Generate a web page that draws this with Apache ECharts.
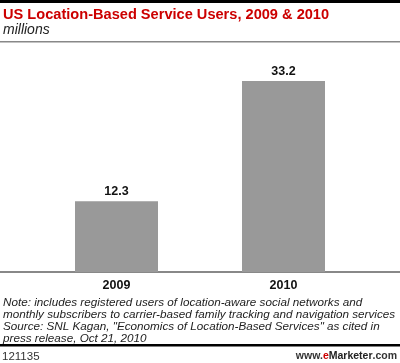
<!DOCTYPE html>
<html><head><meta charset="utf-8">
<script src="https://cdn.jsdelivr.net/npm/echarts@6/dist/echarts.min.js"></script>
<style>html,body{margin:0;padding:0;background:#fff}#c{width:400px;height:363px}</style>
</head><body><div id="c"></div>
<script>
const categories = ['2009', '2010'];
const users = [12.3, 33.2];
const titleText = 'US Location-Based Service Users, 2009 & 2010';
const subtitleText = 'millions';
const noteLines = [
  'Note: includes registered users of location-aware social networks and',
  'monthly subscribers to carrier-based family tracking and navigation services',
  'Source: SNL Kagan, "Economics of Location-Based Services" as cited in',
  'press release, Oct 21, 2010'
];
const footerId = '121135';

const chart = echarts.init(document.getElementById('c'), null, {renderer: 'canvas'});
const F = '"Liberation Sans", Arial, sans-serif';
chart.setOption({
  animation: false,
  backgroundColor: '#fff',
  title: [
    {text: titleText, left: 3, top: 7, padding: 0, textStyle: {fontFamily: F, fontSize: 14.6, fontWeight: 'bold', color: '#cc0000'}},
    {text: subtitleText, left: 3, top: 23, padding: 0, textStyle: {fontFamily: F, fontSize: 14, fontStyle: 'italic', fontWeight: 'normal', color: '#222'}},
    {text: noteLines.join('\n'), left: 3, top: 297, padding: 0, textStyle: {fontFamily: F, fontSize: 11.7, fontStyle: 'italic', fontWeight: 'normal', color: '#222', lineHeight: 11.8}},
    {text: footerId, left: 2, top: 351, padding: 0, textStyle: {fontFamily: F, fontSize: 11.5, fontWeight: 'normal', color: '#333'}},
    {text: '{a|www.}{b|e}{c|Marketer}{a|.com}', right: 3, top: 351, padding: 0, textStyle: {rich: {
      a: {fontFamily: F, fontSize: 10.5, color: '#333'},
      b: {fontFamily: F, fontSize: 10.5, color: '#cc0000', fontWeight: 'bold'},
      c: {fontFamily: F, fontSize: 10.5, color: '#222', fontWeight: 'bold'}
    }}}
  ],
  graphic: [
    {type: 'rect', shape: {x: 0, y: 0, width: 400, height: 3}, style: {fill: '#000'}},
    {type: 'rect', shape: {x: 0, y: 41, width: 400, height: 1.5}, style: {fill: '#888'}},
    {type: 'rect', shape: {x: 0, y: 271, width: 400, height: 2}, style: {fill: '#888'}},
    {type: 'rect', shape: {x: 0, y: 344, width: 400, height: 2.5}, style: {fill: '#000'}}
  ],
  grid: {left: 33, right: 33, top: 42, bottom: 91},
  xAxis: {
    type: 'category', data: categories,
    axisLine: {show: false}, axisTick: {show: false},
    axisLabel: {fontFamily: F, fontSize: 12.5, fontWeight: 'bold', color: '#111', margin: 7}
  },
  yAxis: {type: 'value', min: 0, max: 40, show: false, splitLine: {show: false}},
  series: [{
    type: 'bar', data: users, barWidth: 83,
    itemStyle: {color: '#999999'},
    label: {show: true, position: 'top', distance: 3, fontFamily: F, fontSize: 12.5, fontWeight: 'bold', color: '#111'}
  }]
});
</script></body></html>
